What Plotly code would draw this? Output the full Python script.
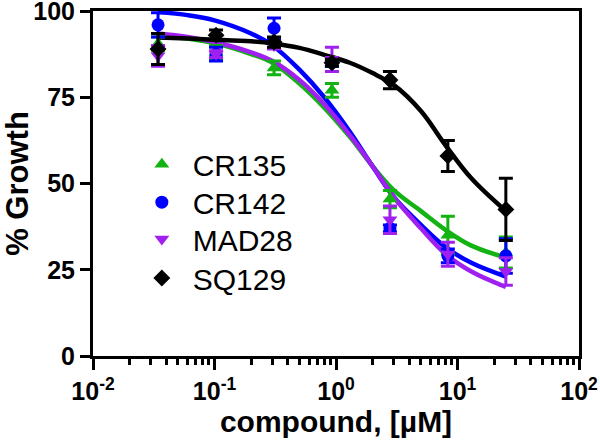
import plotly.graph_objects as go

# ---- data ----
conc = [0.0343, 0.103, 0.309, 0.926, 2.78, 8.33, 25.0]

cr135_y = [90.5, 88.0, 83.5, 77.0, 45.5, 35.0, 30.0]
cr135_err = [2.0, 2.0, 2.0, 2.0, 2.5, 5.5, 4.5]
cr142_y = [96.0, 87.5, 95.0, 85.0, 37.0, 29.0, 29.0]
cr142_err = [3.5, 2.0, 3.0, 1.0, 1.0, 2.0, 5.0]
mad28_y = [87.0, 87.5, 90.0, 86.0, 39.5, 29.5, 24.5]
mad28_err = [3.0, 1.0, 1.0, 3.5, 4.0, 3.5, 4.0]
sq129_y = [89.0, 93.0, 91.0, 85.0, 80.0, 58.0, 42.5]
sq129_err = [4.5, 1.5, 1.5, 1.0, 2.5, 4.5, 9.0]

# fitted curves
curve_x = [0.0343, 0.06, 0.1, 0.2, 0.3, 0.5, 0.8, 1.3, 2.0, 3.0, 5.0, 8.0, 13.0, 25.0]
cr135_fit = [93.0, 92.0, 90.7, 87.5, 85.0, 79.0, 72.0, 63.5, 55.0, 48.0, 42.0, 36.5, 32.0, 28.5]
cr142_fit = [99.7, 98.8, 97.3, 93.5, 90.0, 83.0, 75.0, 65.0, 55.0, 46.0, 38.0, 31.5, 27.0, 23.0]
mad28_fit = [93.5, 92.5, 91.0, 88.0, 85.5, 80.0, 73.0, 64.0, 55.0, 46.0, 37.0, 29.5, 24.5, 20.0]
sq129_fit = [92.3, 92.0, 91.7, 91.2, 90.6, 89.3, 87.3, 85.0, 82.0, 78.5, 71.0, 61.0, 51.5, 42.0]

names = ["CR135", "CR142", "MAD28", "SQ129"]
colors = ["#12B312", "#0000FF", "#A020F0", "#000000"]
symbols = ["triangle-up", "circle", "triangle-down", "diamond"]
xtick_vals = [0.01, 0.1, 1, 10, 100]
xtick_text = ["10<sup>-2</sup>", "10<sup>-1</sup>", "10<sup>0</sup>", "10<sup>1</sup>", "10<sup>2</sup>"]
ytick_vals = [0, 25, 50, 75, 100]

series_y = [cr135_y, cr142_y, mad28_y, sq129_y]
series_err = [cr135_err, cr142_err, mad28_err, sq129_err]
series_fit = [cr135_fit, cr142_fit, mad28_fit, sq129_fit]

# legend row centres (in paper fraction of the plot height)
legend_rows = [0.556, 0.446, 0.339, 0.226]
legend_keys = ["legend", "legend2", "legend3", "legend4"]

fig = go.Figure()
for n, c, f in zip(names, colors, series_fit):
    fig.add_trace(go.Scatter(x=curve_x, y=f, mode="lines", line=dict(color=c, width=4.5, shape="spline"),
                             showlegend=False, hoverinfo="skip"))
for n, c, s, y, e, lk in zip(names, colors, symbols, series_y, series_err, legend_keys):
    fig.add_trace(go.Scatter(x=conc, y=y, mode="markers", name="\u00a0\u200a" + n, legend=lk,
                             marker=dict(color=c, symbol=s, size=13, line=dict(width=0)),
                             error_y=dict(type="data", array=e, visible=True, color=c, thickness=3, width=7)))

minor_vals = []
for d in [0.01, 0.1, 1, 10]:
    for k in range(2, 10):
        minor_vals.append(d * k)

font_family = "Liberation Sans, Arial, sans-serif"
legend_common = dict(x=0.1005, xanchor="left", yanchor="middle", bgcolor="rgba(0,0,0,0)",
                     font=dict(size=30, family=font_family, color="black"))
layout_legends = {}
for lk, ly in zip(legend_keys, legend_rows):
    layout_legends[lk] = dict(y=ly, **legend_common)

fig.update_layout(
    width=600, height=448,
    margin=dict(l=93, r=21, t=11, b=92),
    paper_bgcolor="white", plot_bgcolor="white",
    font=dict(family=font_family, color="black"),
    showlegend=True,
    xaxis=dict(type="log", range=[-2, 2], showgrid=False, zeroline=False, automargin=False,
               showline=True, linecolor="black", linewidth=3, mirror=True,
               ticks="outside", ticklen=11, tickwidth=3, tickcolor="black",
               tickmode="array", tickvals=xtick_vals, ticktext=xtick_text,
               ticklabeloverflow="allow",
               tickfont=dict(size=25, family=font_family, weight="bold"),
               minor=dict(tickmode="array", tickvals=minor_vals, ticks="outside", ticklen=6, tickwidth=2.5,
                          tickcolor="black", showgrid=False),
               title=dict(text="<b>compound, [µM]</b>", font=dict(size=30, family=font_family), standoff=4)),
    yaxis=dict(range=[0, 100], showgrid=False, zeroline=False, automargin=False,
               showline=True, linecolor="black", linewidth=3, mirror=True,
               ticks="outside", ticklen=10, tickwidth=3, tickcolor="black",
               tickmode="array", tickvals=ytick_vals, ticklabeloverflow="allow",
               tickfont=dict(size=25, family=font_family, weight="bold"),
               title=dict(text="<b>% Growth</b>", font=dict(size=31, family=font_family), standoff=12)),
    **layout_legends,
)

fig.write_html("out.html", config={"displayModeBar": False},
               post_script="document.body.style.margin='0';document.body.style.padding='0';")
